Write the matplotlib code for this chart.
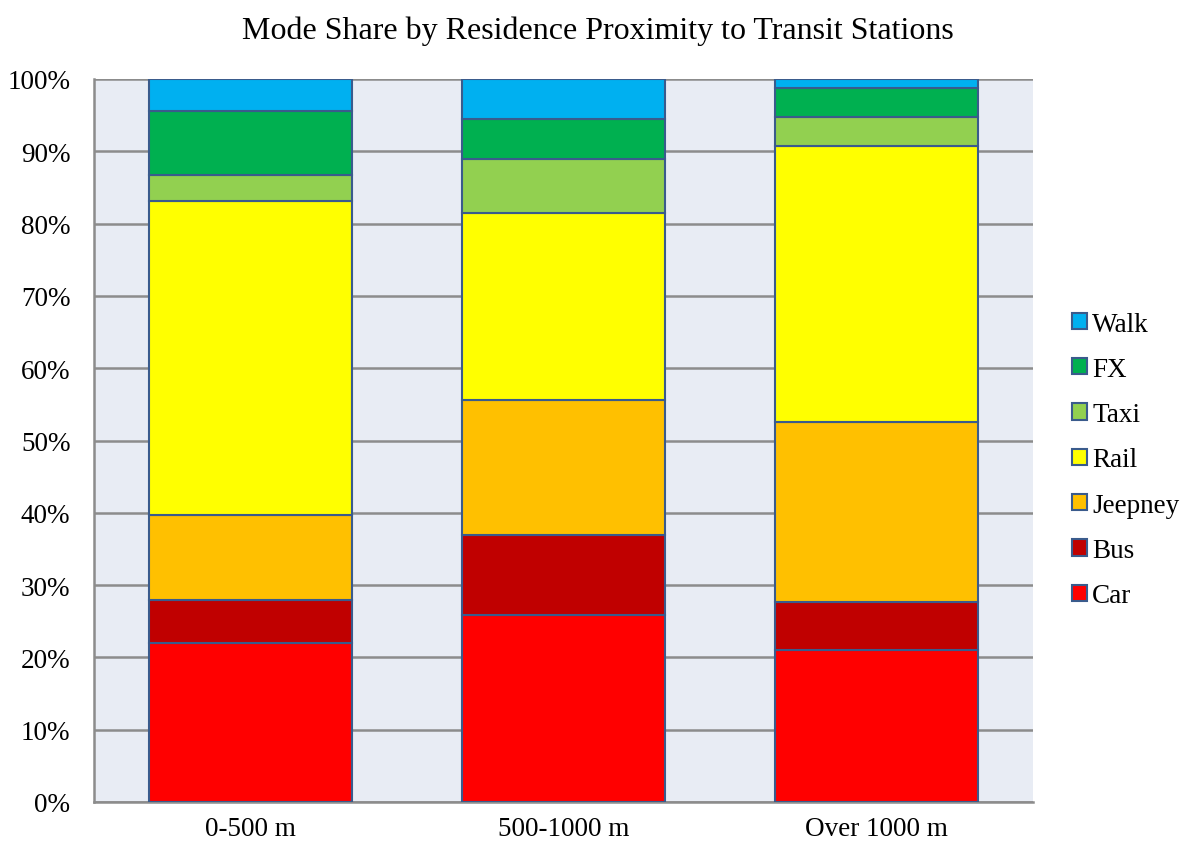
import matplotlib
matplotlib.use("Agg")
import matplotlib.pyplot as plt
from matplotlib.patches import Patch
from matplotlib.ticker import FuncFormatter

categories = ["0-500 m", "500-1000 m", "Over 1000 m"]
modes = ["Car", "Bus", "Jeepney", "Rail", "Taxi", "FX", "Walk"]
car = [22.0, 25.9, 21.0]
bus = [5.9, 11.0, 6.7]
jeepney = [11.8, 18.7, 24.9]
rail = [43.4, 25.9, 38.1]
taxi = [3.6, 7.4, 4.0]
fx = [8.9, 5.6, 4.1]
walk = [4.4, 5.5, 1.2]
series = [car, bus, jeepney, rail, taxi, fx, walk]
colors = ["#FF0000", "#C00000", "#FFC000", "#FFFF00", "#92D050", "#00B050", "#00B0F0"]
edge = "#3A5B8C"

plt.rcParams["font.family"] = ["Liberation Serif", "DejaVu Serif"]

fig = plt.figure(figsize=(11.81, 8.45), dpi=100)
ax = fig.add_axes([94 / 1181, 1 - 803 / 845, (1033 - 94) / 1181, (803 - 80) / 845])
ax.set_facecolor("#E8ECF4")

x = [i + 0.5 for i in range(len(categories))]
bottom = [0.0] * len(categories)
for vals, col, name in zip(series, colors, modes):
    ax.bar(x, vals, width=0.646, bottom=bottom, color=col, edgecolor=edge,
           linewidth=1.5, label=name, zorder=3)
    bottom = [b + v for b, v in zip(bottom, vals)]

ax.set_xlim(0, 3)
ax.set_ylim(0, 100)
ax.set_yticks(range(0, 101, 10))
ax.yaxis.set_major_formatter(FuncFormatter(lambda v, p: f"{int(v)}%"))
ax.set_xticks(x)
ax.set_xticklabels(categories)
ax.tick_params(axis="both", length=0, labelsize=19.5, colors="black")
ax.tick_params(axis="x", pad=10)
ax.tick_params(axis="y", pad=17)
ax.grid(axis="y", color="#8C8C8C", linewidth=1.8, zorder=1)
ax.set_axisbelow(True)
for s in ["top", "right"]:
    ax.spines[s].set_visible(False)
for s in ["left", "bottom"]:
    ax.spines[s].set_color("#8C8C8C")
    ax.spines[s].set_linewidth(1.8)

fig.text(598 / 1181, 1 - 31 / 845, "Mode Share by Residence Proximity to Transit Stations",
         ha="center", va="center", fontsize=23)

handles = [Patch(facecolor=c, edgecolor=edge, linewidth=1.5, label=m)
           for c, m in zip(colors, modes)][::-1]
ax.legend(handles=handles, loc="center left", bbox_to_anchor=(1072 / 1181, 1 - 461 / 845),
          bbox_transform=fig.transFigure, frameon=False, fontsize=19.5,
          handlelength=0.55, handleheight=0.55, handletextpad=0.2, labelspacing=0.75,
          borderaxespad=0, borderpad=0)

fig.savefig("out.png", dpi=100)
